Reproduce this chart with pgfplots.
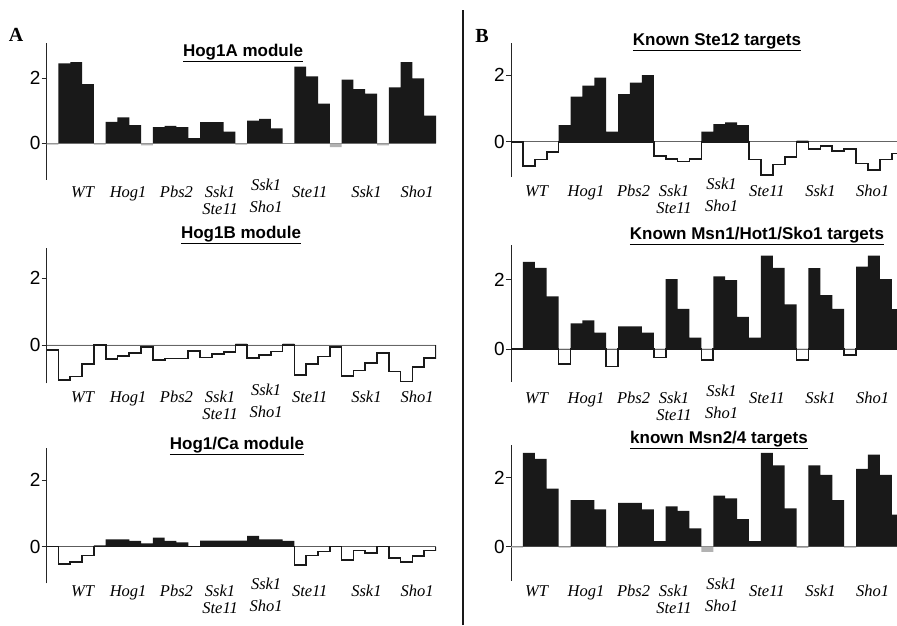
\documentclass[border=0pt]{standalone}
\usepackage{pgfplots}
\pgfplotsset{compat=1.18}
\usepackage{pgfplotstable}
\usepackage{fontspec}
\setmainfont{Liberation Serif}
\setsansfont{Liberation Sans}

% one row per bar (x = left edge), last row closes the last bar
% pos = filled bar, neg = outlined step below zero, gry = faint grey stub near zero
\pgfplotstableread{
x pos neg gry
0 0 0 -0.04
1 2.46 0 0
2 2.50 0 0
3 1.82 0 0
4 0 0 -0.04
5 0.66 0 0
6 0.80 0 0
7 0.56 0 0
8 0 0 -0.06
9 0.50 0 0
10 0.54 0 0
11 0.50 0 0
12 0.16 0 0
13 0.65 0 0
14 0.65 0 0
15 0.36 0 0
16 0 0 -0.04
17 0.70 0 0
18 0.75 0 0
19 0.46 0 0
20 0 0 0
21 2.36 0 0
22 2.06 0 0
23 1.22 0 0
24 0 0 -0.12
25 1.96 0 0
26 1.67 0 0
27 1.53 0 0
28 0 0 -0.06
29 1.72 0 0
30 2.50 0 0
31 2.00 0 0
32 0.85 0 0
33 0 0 0
}\hogA

\pgfplotstableread{
x pos neg gry
0 0 -0.15 0
1 0 -1.05 0
2 0 -0.95 0
3 0 -0.57 0
4 0 0 0
5 0 -0.43 0
6 0 -0.33 0
7 0 -0.25 0
8 0 -0.07 0
9 0 -0.45 0
10 0 -0.41 0
11 0 -0.41 0
12 0 -0.18 0
13 0 -0.38 0
14 0 -0.27 0
15 0 -0.21 0
16 0 0 0.05
17 0 -0.40 0
18 0 -0.30 0
19 0 -0.20 0
20 0 0 0.05
21 0 -0.90 0
22 0 -0.57 0
23 0 -0.35 0
24 0 -0.07 0
25 0 -0.93 0
26 0 -0.77 0
27 0 -0.55 0
28 0 -0.25 0
29 0 -0.80 0
30 0 -1.10 0
31 0 -0.67 0
32 0 -0.40 0
33 0 0 0
}\hogB

\pgfplotstableread{
x pos neg gry
0 0 0 0
1 0 -0.53 0
2 0 -0.47 0
3 0 -0.27 0
4 0.04 0 0
5 0.22 0 0
6 0.22 0 0
7 0.17 0 0
8 0.10 0 0
9 0.27 0 0
10 0.17 0 0
11 0.13 0 0
12 0 0 0
13 0.18 0 0
14 0.18 0 0
15 0.18 0 0
16 0.18 0 0
17 0.32 0 0
18 0.22 0 0
19 0.22 0 0
20 0.17 0 0
21 0 -0.55 0
22 0 -0.27 0
23 0 -0.15 0
24 0 0 0
25 0 -0.40 0
26 0 -0.12 0
27 0 -0.20 0
28 0 0 0
29 0 -0.35 0
30 0 -0.47 0
31 0 -0.28 0
32 0 -0.12 0
33 0 0 0
}\hogCa

\pgfplotstableread{
x pos neg gry
0 0 0 0
1 0 -0.72 0
2 0 -0.53 0
3 0 -0.30 0
4 0.50 0 0
5 1.35 0 0
6 1.68 0 0
7 1.92 0 0
8 0.30 0 0
9 1.43 0 0
10 1.77 0 0
11 2.00 0 0
12 0 -0.43 0
13 0 -0.52 0
14 0 -0.59 0
15 0 -0.51 0
16 0.30 0 0
17 0.53 0 0
18 0.58 0 0
19 0.50 0 0
20 0 -0.53 0
21 0 -1.00 0
22 0 -0.68 0
23 0 -0.45 0
24 0 0 0.05
25 0 -0.22 0
26 0 -0.12 0
27 0 -0.27 0
28 0 -0.21 0
29 0 -0.65 0
30 0 -0.85 0
31 0 -0.53 0
32 0 -0.35 0
33 0 0 0
}\steTw

\pgfplotstableread{
x pos neg gry
0 0 0 -0.03
1 2.52 0 0
2 2.35 0 0
3 1.52 0 0
4 0 -0.44 0
5 0.74 0 0
6 0.83 0 0
7 0.47 0 0
8 0 -0.51 0
9 0.65 0 0
10 0.65 0 0
11 0.47 0 0
12 0 -0.25 0
13 2.02 0 0
14 1.16 0 0
15 0.33 0 0
16 0 -0.33 0
17 2.10 0 0
18 1.99 0 0
19 0.93 0 0
20 0.33 0 0
21 2.70 0 0
22 2.35 0 0
23 1.29 0 0
24 0 -0.33 0
25 2.34 0 0
26 1.56 0 0
27 1.16 0 0
28 0 -0.17 0
29 2.38 0 0
30 2.70 0 0
31 2.02 0 0
32 1.15 0 0
33 0 0 0
}\msnOne

\pgfplotstableread{
x pos neg gry
0 0 0 -0.03
1 2.72 0 0
2 2.55 0 0
3 1.68 0 0
4 0 0 -0.03
5 1.35 0 0
6 1.35 0 0
7 1.08 0 0
8 0 0 -0.03
9 1.27 0 0
10 1.27 0 0
11 1.08 0 0
12 0.16 0 0
13 1.17 0 0
14 1.04 0 0
15 0.53 0 0
16 0 0 -0.15
17 1.48 0 0
18 1.40 0 0
19 0.80 0 0
20 0.16 0 0
21 2.72 0 0
22 2.36 0 0
23 1.11 0 0
24 0 0 -0.04
25 2.36 0 0
26 2.08 0 0
27 1.35 0 0
28 0 0 -0.03
29 2.26 0 0
30 2.67 0 0
31 2.08 0 0
32 0.93 0 0
33 0 0 0
}\msnTwo

% two-line tick label whose baseline is the first line
\newcommand{\twoline}[2]{\vtop{\hbox to 0pt{\hss#1\hss}\hbox to 0pt{\hss#2\hss}}}

\pgfplotsset{
  panel/.style={
    scale only axis, anchor=south west,
    axis y line*=left, axis x line*=bottom,
    x axis line style={draw=none},
    y axis line style={line width=0.8pt, black!85},
    xmin=0,
    ytick={0,2}, yticklabels={0,2},
    tick align=outside, major tick length=5pt,
    major x tick style={draw=none},
    ytick style={line width=0.8pt, black!85},
    /pgf/number format/assume math mode=true,
    yticklabel style={font=\sffamily\fontsize{19}{20}\selectfont, inner sep=1pt},
    xticklabel style={font=\itshape\fontsize{16.5}{17}\selectfont, anchor=base},
    xticklabels={WT,Hog1,Pbs2,{\twoline{Ssk1}{Ste11}},
      {\twoline{\raisebox{7pt}{Ssk1}}{\raisebox{2pt}{Sho1}}},Ste11,Ssk1,Sho1},
  },
  panelA/.style={panel, xmax=33, width=389.3pt,
    xtick={3.05,6.9,11.0,14.7,18.6,22.3,27.1,31.4}},
  panelB/.style={panel, xmax=32.44, width=386pt,
    xtick={2.16,6.3,10.3,13.7,17.7,21.5,26.0,30.4}},
  posbar/.style={ybar interval, fill=black!90, draw=none},
  grybar/.style={ybar interval, fill=black!30, draw=none},
  negstep/.style={const plot, black!90, line width=1.7pt},
}

\newcommand{\ttl}[1]{\sffamily\bfseries\fontsize{17}{19}\selectfont\underline{#1}}

\begin{document}
\begin{tikzpicture}
\path[use as bounding box] (0,0) rectangle (897pt,625pt);

% ---- panel A ----
\begin{axis}[panelA, at={(46.7pt,445pt)}, height=136.7pt, ymin=-1.13, ymax=3.08,
  xticklabel style={yshift=-12.5pt}]
\draw[black!40, line width=0.5pt] (axis cs:0,0) -- (axis cs:33,0);
\addplot[grybar] table[x=x, y=gry] {\hogA};
\addplot[posbar] table[x=x, y=pos] {\hogA};
\end{axis}

\begin{axis}[panelA, at={(46.7pt,241.7pt)}, height=135pt, ymin=-1.15, ymax=2.9,
  xticklabel style={yshift=-14.5pt}]
\draw[black!60, line width=0.6pt] (axis cs:0,0) -- (axis cs:33,0);
\addplot[grybar] table[x=x, y=gry] {\hogB};
\addplot[negstep] table[x=x, y=neg] {\hogB};
\end{axis}

\begin{axis}[panelA, at={(46.7pt,41.7pt)}, height=135pt, ymin=-1.1, ymax=2.95,
  xticklabel style={yshift=-8.5pt}]
\draw[black!60, line width=0.6pt] (axis cs:0,0) -- (axis cs:33,0);
\addplot[posbar] table[x=x, y=pos] {\hogCa};
\addplot[negstep] table[x=x, y=neg] {\hogCa};
\end{axis}

% ---- panel B ----
\begin{axis}[panelB, at={(511pt,448.3pt)}, height=134pt, ymin=-1.05, ymax=2.97,
  xticklabel style={yshift=-14.5pt}]
\draw[black!60, line width=0.6pt] (axis cs:0,0) -- (axis cs:33,0);
\addplot[grybar] table[x=x, y=gry] {\steTw};
\addplot[posbar] table[x=x, y=pos] {\steTw};
\addplot[negstep] table[x=x, y=neg] {\steTw};
\end{axis}

\begin{axis}[panelB, at={(511pt,243.3pt)}, height=136.7pt, ymin=-0.95, ymax=3.01,
  xticklabel style={yshift=-16.5pt}]
\draw[black!60, line width=0.6pt] (axis cs:0,0) -- (axis cs:33,0);
\addplot[grybar] table[x=x, y=gry] {\msnOne};
\addplot[posbar] table[x=x, y=pos] {\msnOne};
\addplot[negstep] table[x=x, y=neg] {\msnOne};
\end{axis}

\begin{axis}[panelB, at={(511pt,44.3pt)}, height=135.7pt, ymin=-0.99, ymax=2.95,
  xticklabel style={yshift=-10.5pt}]
\draw[black!40, line width=0.5pt] (axis cs:0,0) -- (axis cs:33,0);
\addplot[grybar] table[x=x, y=gry] {\msnTwo};
\addplot[posbar] table[x=x, y=pos] {\msnTwo};
\end{axis}

% titles, panel letters, divider
\node at (243pt,572pt) {\ttl{Hog1A module}};
\node at (241pt,390pt) {\ttl{Hog1B module}};
\node at (237pt,179pt) {\ttl{Hog1/Ca module}};
\node at (717pt,583pt) {\ttl{Known Ste12 targets}};
\node at (757pt,389pt) {\ttl{Known Msn1/Hot1/Sko1 targets}};
\node at (719pt,185pt) {\ttl{known Msn2/4 targets}};
\node[font=\bfseries\fontsize{20}{22}\selectfont] at (16pt,590pt) {A};
\node[font=\bfseries\fontsize{20}{22}\selectfont] at (482pt,589pt) {B};
\draw[black!90, line width=1.4pt] (463pt,0pt) -- (463pt,615pt);
\end{tikzpicture}
\end{document}
